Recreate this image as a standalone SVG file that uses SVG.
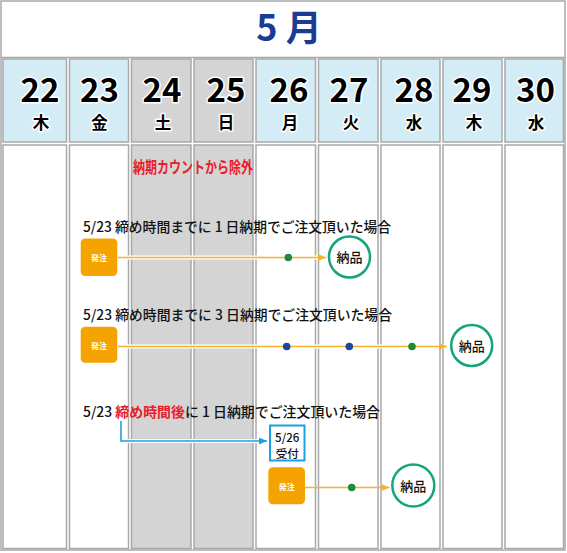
<svg xmlns="http://www.w3.org/2000/svg" width="567" height="553" viewBox="0 0 567 553">
<style>
.grid{stroke:#a9a9a9;stroke-width:1.5}
.hb{fill:#d4ecf5}
.hg{fill:#d4d4d4}
.bw{fill:#ffffff}
.bg{fill:#d4d4d4}
.num{font-family:"Noto Sans CJK JP","Noto Sans",sans-serif;font-weight:700;font-size:33px;fill:#000;text-anchor:middle;stroke:#fff;stroke-width:3;paint-order:stroke;stroke-linejoin:round}
.wd{font-family:"Noto Sans CJK JP",sans-serif;font-weight:700;font-size:16.5px;fill:#000;text-anchor:middle;stroke:#fff;stroke-width:3;paint-order:stroke;stroke-linejoin:round}
.lbl{font-family:"Noto Sans CJK JP",sans-serif;font-weight:500;font-size:13.8px;fill:#111}
.red{fill:#e8202a}
.order rect{fill:#f5a300}
.order text{font-family:"Noto Sans CJK JP",sans-serif;font-weight:700;font-size:8px;fill:#fff;text-anchor:middle}
.deliv circle{fill:#fff;stroke:#17a47c;stroke-width:2.5}
.deliv text{font-family:"Noto Sans CJK JP",sans-serif;font-weight:500;font-size:13px;fill:#111;text-anchor:middle}
.halo{stroke:#fff;stroke-width:4;fill:none}
.oline{stroke:#f6b12e;stroke-width:1.6;fill:none}
.bline{stroke:#1e9fe4;stroke-width:1.6;fill:none}
.gdot{fill:#1d8a3c}
.bdot{fill:#1c47a0}
.acc{font-family:"Noto Sans CJK JP",sans-serif;font-weight:500;font-size:11.5px;fill:#111;text-anchor:middle}
</style>
<defs>
<marker id="ao" markerUnits="userSpaceOnUse" markerWidth="8" markerHeight="7" refX="8" refY="3.5" orient="auto"><path d="M0,0 L8,3.5 L0,7 z" fill="#f6b12e"/></marker>
<marker id="ab" markerUnits="userSpaceOnUse" markerWidth="8" markerHeight="7" refX="8" refY="3.5" orient="auto"><path d="M0,0 L8,3.5 L0,7 z" fill="#1e9fe4"/></marker>
</defs>
<rect x="0" y="0" width="567" height="553" fill="#fff"/>
<g id="calendar">
<rect x="1" y="1" width="564" height="549" fill="#fff" class="grid"/>
<line x1="1" y1="57.5" x2="565" y2="57.5" class="grid"/>
<text x="289" y="41" font-family="Noto Sans CJK JP, sans-serif" font-weight="700" font-size="36" fill="#1b3b95" text-anchor="middle">5 月</text>
<rect x="3" y="59" width="63.5" height="83" class="hb grid"/>
<rect x="69.5" y="59" width="59" height="83" class="hb grid"/>
<rect x="131.5" y="59" width="59.5" height="83" class="hg grid"/>
<rect x="194" y="59" width="59" height="83" class="hg grid"/>
<rect x="256" y="59" width="59.5" height="83" class="hb grid"/>
<rect x="318.5" y="59" width="59.5" height="83" class="hb grid"/>
<rect x="381" y="59" width="59" height="83" class="hb grid"/>
<rect x="443" y="59" width="59" height="83" class="hb grid"/>
<rect x="505" y="59" width="58.5" height="83" class="hb grid"/>
<rect x="3" y="145" width="63.5" height="403.5" class="bw grid"/>
<rect x="69.5" y="145" width="59" height="403.5" class="bw grid"/>
<rect x="131.5" y="145" width="59.5" height="403.5" class="bg grid"/>
<rect x="194" y="145" width="59" height="403.5" class="bg grid"/>
<rect x="256" y="145" width="59.5" height="403.5" class="bw grid"/>
<rect x="318.5" y="145" width="59.5" height="403.5" class="bw grid"/>
<rect x="381" y="145" width="59" height="403.5" class="bw grid"/>
<rect x="443" y="145" width="59" height="403.5" class="bw grid"/>
<rect x="505" y="145" width="58.5" height="403.5" class="bw grid"/>
<text class="num" x="40" y="101.5">22</text><text class="wd" x="41" y="128.5">木</text>
<text class="num" x="99.5" y="101.5">23</text><text class="wd" x="99.5" y="128.5">金</text>
<text class="num" x="162" y="101.5">24</text><text class="wd" x="163" y="128.5">土</text>
<text class="num" x="226" y="101.5">25</text><text class="wd" x="226" y="128.5">日</text>
<text class="num" x="289" y="101.5">26</text><text class="wd" x="290" y="128.5">月</text>
<text class="num" x="349" y="101.5">27</text><text class="wd" x="351" y="128.5">火</text>
<text class="num" x="414" y="101.5">28</text><text class="wd" x="414" y="128.5">水</text>
<text class="num" x="472" y="101.5">29</text><text class="wd" x="474" y="128.5">木</text>
<text class="num" x="535.5" y="101.5">30</text><text class="wd" x="536" y="128.5">水</text>
<text x="133" y="173" font-family="Noto Sans CJK JP, sans-serif" font-weight="700" font-size="16" fill="#e8202a" textLength="120" lengthAdjust="spacingAndGlyphs">納期カウントから除外</text>
</g>
<g id="labels">
<text class="lbl" x="83" y="231.5" textLength="308" lengthAdjust="spacingAndGlyphs">5/23 締め時間までに 1 日納期でご注文頂いた場合</text>
<text class="lbl" x="83" y="319.5" textLength="309" lengthAdjust="spacingAndGlyphs">5/23 締め時間までに 3 日納期でご注文頂いた場合</text>
<text class="lbl" x="83" y="416.5" textLength="297" lengthAdjust="spacingAndGlyphs">5/23 <tspan class="red" font-weight="700">締め時間後</tspan>に 1 日納期でご注文頂いた場合</text>
</g>
<g id="connectors">
<line x1="118" y1="257.5" x2="326" y2="257.5" class="halo"/>
<line x1="118" y1="257.5" x2="326" y2="257.5" class="oline" marker-end="url(#ao)"/>
<line x1="118" y1="346.5" x2="447" y2="346.5" class="halo"/>
<line x1="118" y1="346.5" x2="447" y2="346.5" class="oline" marker-end="url(#ao)"/>
<line x1="305" y1="487.5" x2="389.5" y2="487.5" class="oline" marker-end="url(#ao)"/>
<path d="M121,421 V441 H267" class="halo"/>
<path d="M121,421 V441 H267" class="bline" marker-end="url(#ab)"/>
<circle cx="288.3" cy="257.5" r="3.8" class="gdot"/>
<circle cx="286.7" cy="346.5" r="3.8" class="bdot"/>
<circle cx="349.3" cy="346.5" r="3.8" class="bdot"/>
<circle cx="412" cy="346.5" r="3.8" class="gdot"/>
<circle cx="351.7" cy="487.5" r="3.8" class="gdot"/>
</g>
<g id="order1" class="order"><rect x="80.7" y="238.5" width="36.6" height="37.5" rx="4.5"/><text x="99" y="260.5">発注</text></g>
<g id="order2" class="order"><rect x="80.7" y="326.7" width="36.6" height="36" rx="4.5"/><text x="99" y="348.5">発注</text></g>
<g id="order3" class="order"><rect x="268.3" y="467.3" width="36.7" height="37" rx="4.5"/><text x="286.7" y="490">発注</text></g>
<g id="deliv1" class="deliv"><circle cx="349.5" cy="257" r="20.5"/><text x="349.5" y="262">納品</text></g>
<g id="deliv2" class="deliv"><circle cx="471.7" cy="345.5" r="20.5"/><text x="471.7" y="350.5">納品</text></g>
<g id="deliv3" class="deliv"><circle cx="413.3" cy="485.5" r="21"/><text x="413.3" y="490.5">納品</text></g>
<g id="accept"><rect x="270" y="425.5" width="34.5" height="35" fill="#fff" stroke="#1e9fe4" stroke-width="2"/>
<text class="acc" x="287.2" y="442">5/26</text>
<text class="acc" x="287.2" y="457.5">受付</text></g>
</svg>
